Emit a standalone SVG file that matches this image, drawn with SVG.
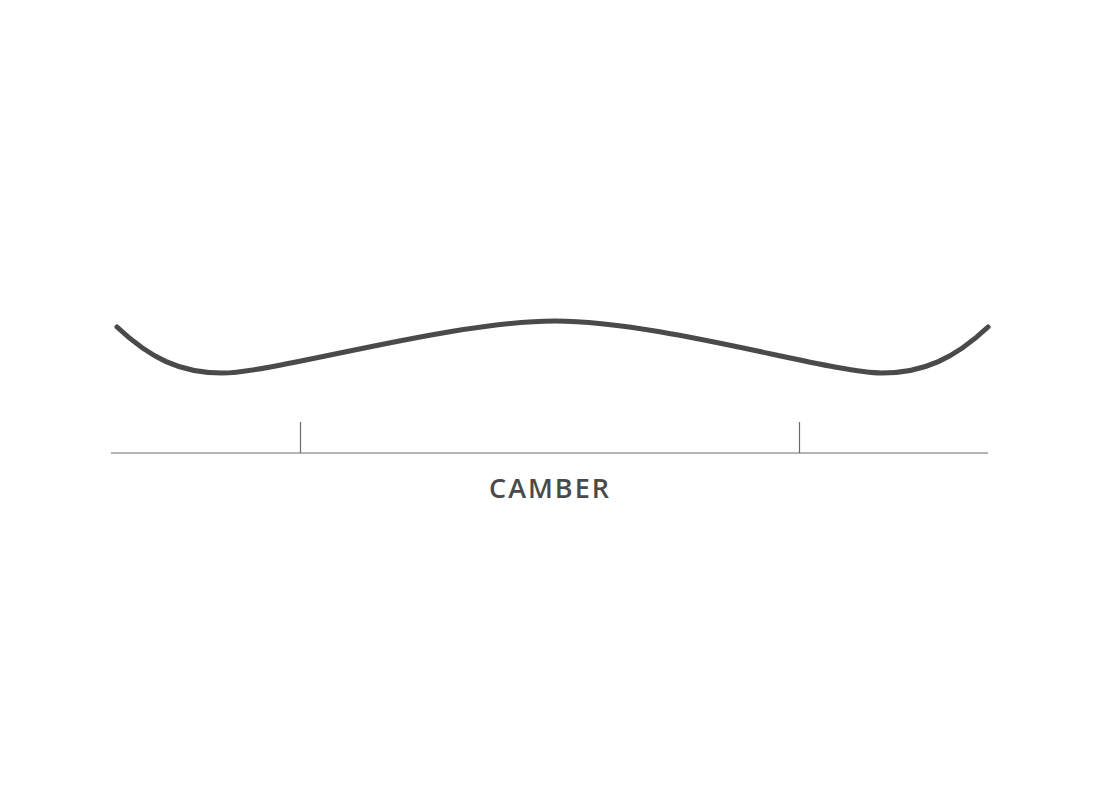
<svg xmlns="http://www.w3.org/2000/svg" width="1100" height="800" viewBox="0 0 1100 800">
<style>
.board{fill:none;stroke:#4a4a4a;stroke-width:5;stroke-linecap:round;stroke-linejoin:round}
.rule{fill:none;stroke:#6a6a6a;stroke-width:1.2}
.label{font-family:"Open Sans","DejaVu Sans",sans-serif;font-size:27px;font-weight:600;fill:#4a4a4a;letter-spacing:2px}
</style>
<rect width="1100" height="800" fill="#ffffff"/>
<g id="board">
<path class="board" d="M117,327 C150,358 180,373 222,373 C275,373 450,321 555,321 C660,321 830,373 882,373 C924,373 955,358 988,327"/>
</g>
<g id="scale">
<line class="rule" x1="111" y1="453" x2="988" y2="453"/>
<line class="rule" x1="300.5" y1="422" x2="300.5" y2="453"/>
<line class="rule" x1="799.5" y1="422" x2="799.5" y2="453"/>
</g>
<g id="caption">
<text class="label" x="550" y="498" text-anchor="middle">CAMBER</text>
</g>
</svg>
